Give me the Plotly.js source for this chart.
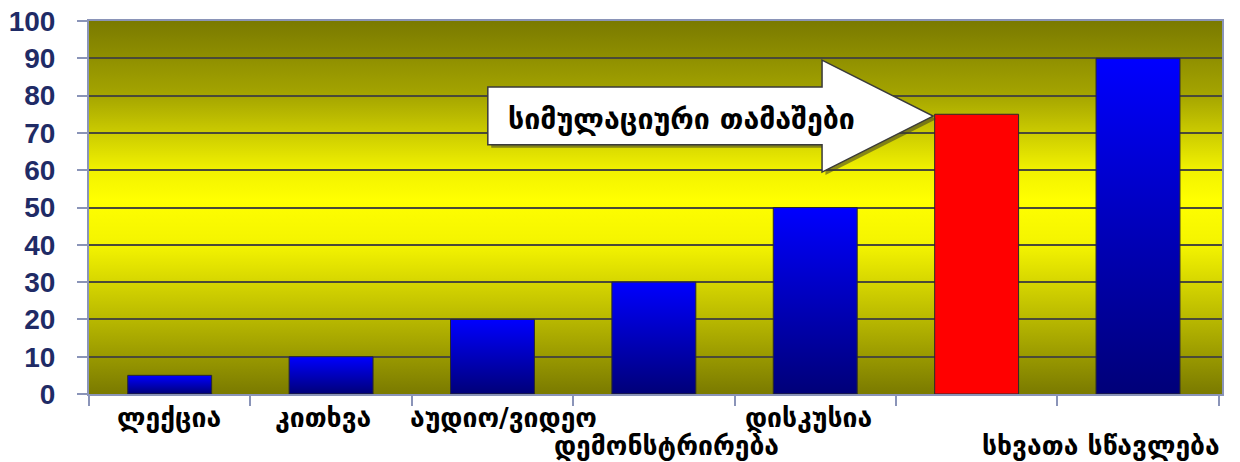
<!DOCTYPE html>
<html>
<head>
<meta charset="utf-8">
<script src="https://cdn.plot.ly/plotly-3.0.1.min.js"></script>
<style>
  html, body { margin: 0; padding: 0; background: #ffffff; overflow: hidden; }
  #chart { width: 1240px; height: 462px; }
</style>
</head>
<body>
<div id="chart"></div>
<script>
// ---- data ----
const categories = ['ლექცია', 'კითხვა', 'აუდიო/ვიდეო', 'დემონსტრირება', 'დისკუსია', 'სიმულაციური თამაშები', 'სხვათა სწავლება'];
const values = [5, 10, 20, 30, 50, 75, 90];
const highlight = 'სიმულაციური თამაშები';
const yTicks = [0, 10, 20, 30, 40, 50, 60, 70, 80, 90, 100];

// ---- style (label placement below the axis) ----
const labelRow = [0, 0, 0, 1, 0, null, 1];        // null = label shown in the arrow
const labelShift = [-1, -8, 11, 13, -7, 0, -37];  // px
const rowY = [-0.064, -0.139];

const barColors = categories.map(c => c === highlight ? '#ff0000' : '#0000ff');

const annotations = [];
categories.forEach((c, i) => {
  if (labelRow[i] === null) return;
  annotations.push({
    x: c, xref: 'x', y: rowY[labelRow[i]], yref: 'paper',
    text: c, showarrow: false, xanchor: 'center', yanchor: 'middle',
    xshift: labelShift[i],
    font: { family: 'DejaVu Sans', size: 26.5, color: '#000000', weight: 700 }
  });
});
// arrow text
annotations.push({
  x: 0.5, xref: 'paper', y: 73.7, yref: 'y',
  text: highlight, showarrow: false, xanchor: 'center', yanchor: 'middle',
  xshift: 26,
  font: { family: 'DejaVu Sans', size: 28.5, color: '#000000', weight: 700 }
});

// arrow shape (paper x, data y)
const arrowPath = 'M0.352,82.3 L0.647,82.3 L0.647,89.5 L0.745,74.5 L0.647,59.5 L0.647,66.8 L0.352,66.8 Z';
const shadowPath = 'M0.355,81.5 L0.650,81.5 L0.650,88.7 L0.748,73.7 L0.650,58.7 L0.650,66.0 L0.355,66.0 Z';

const trace = {
  type: 'bar',
  x: categories,
  y: values,
  marker: { color: barColors, line: { color: '#2a2a2a', width: 1 } },
  hoverinfo: 'x+y'
};

const layout = {
  width: 1240, height: 462,
  margin: { l: 89, r: 18, t: 21, b: 68, autoexpand: false },
  paper_bgcolor: '#ffffff',
  plot_bgcolor: '#f0f000',
  showlegend: false,
  bargap: 0.48,
  xaxis: {
    type: 'category',
    showticklabels: false, automargin: false,
    ticks: 'outside', tickson: 'boundaries', ticklen: 10, tickwidth: 2, tickcolor: '#8a94b8',
    showline: true, linecolor: '#8a94b8', linewidth: 2, mirror: true,
    showgrid: false, zeroline: false, fixedrange: true
  },
  yaxis: {
    range: [0, 100], tickvals: yTicks, automargin: false,
    ticks: 'outside', ticklen: 10, tickwidth: 2, tickcolor: '#8a94b8',
    ticklabelstandoff: 16,
    tickfont: { family: 'Liberation Sans, Arial, sans-serif', size: 28, color: '#1f2b66', weight: 700 },
    showline: true, linecolor: '#8a94b8', linewidth: 2, mirror: true,
    showgrid: true, gridcolor: '#4a4a38', gridwidth: 2,
    zeroline: false, fixedrange: true
  },
  shapes: [
    { type: 'path', xref: 'paper', yref: 'y', path: shadowPath, fillcolor: 'rgba(60,60,40,0.55)', line: { width: 0 }, layer: 'above' },
    { type: 'path', xref: 'paper', yref: 'y', path: arrowPath, fillcolor: '#ffffff', line: { color: '#3a3a3a', width: 1.5 }, layer: 'above' }
  ],
  annotations: annotations
};

Plotly.newPlot('chart', [trace], layout, { staticPlot: true, displayModeBar: false }).then(gd => {
  const svg = gd.querySelector('svg.main-svg');
  const NS = 'http://www.w3.org/2000/svg';
  let defs = svg.querySelector('defs');
  if (!defs) { defs = document.createElementNS(NS, 'defs'); svg.insertBefore(defs, svg.firstChild); }
  function grad(id, stops) {
    const g = document.createElementNS(NS, 'linearGradient');
    g.setAttribute('id', id);
    g.setAttribute('x1', '0'); g.setAttribute('y1', '0');
    g.setAttribute('x2', '0'); g.setAttribute('y2', '1');
    stops.forEach(s => {
      const st = document.createElementNS(NS, 'stop');
      st.setAttribute('offset', s[0]);
      st.setAttribute('stop-color', s[1]);
      g.appendChild(st);
    });
    defs.appendChild(g);
  }
  grad('bgGrad', [[0, '#7a7a00'], [0.2, '#a5a500'], [0.4, '#f2f200'], [0.48, '#ffff00'], [0.6, '#f4f400'], [0.8, '#b8b800'], [1, '#7a7a00']]);
  grad('blueGrad', [[0, '#0000ff'], [1, '#000078']]);
  const bg = svg.querySelector('.bglayer rect.bg');
  if (bg) bg.style.fill = 'url(#bgGrad)';
  svg.querySelectorAll('.barlayer .point path').forEach((p, i) => {
    if (categories[i] !== highlight) p.style.fill = 'url(#blueGrad)';
  });
});
</script>
</body>
</html>
